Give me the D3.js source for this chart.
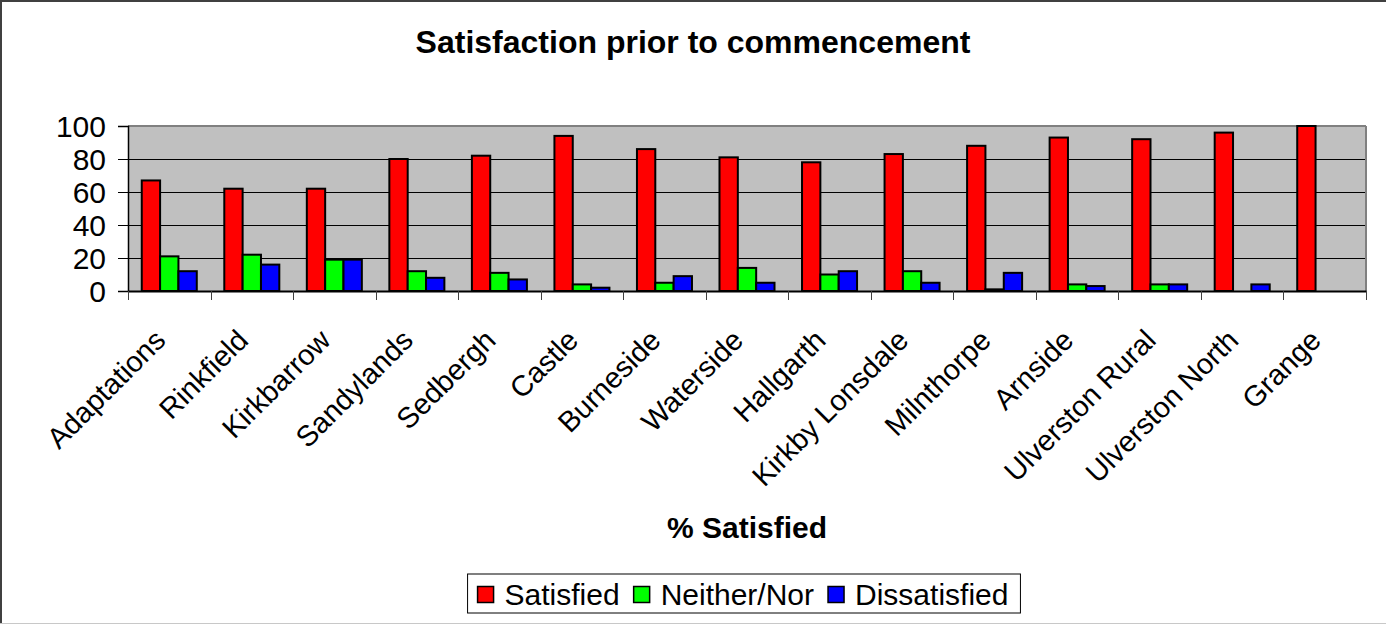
<!DOCTYPE html>
<html>
<head>
<meta charset="utf-8">
<script src="https://cdn.jsdelivr.net/npm/d3@7"></script>
<style>
  html, body { margin: 0; padding: 0; background: #fff; }
  svg { display: block; }
  text { font-family: "Liberation Sans", Arial, sans-serif; fill: #000; }
</style>
</head>
<body>
<svg id="chart" width="1386" height="624"></svg>
<script>
const categories = ["Adaptations", "Rinkfield", "Kirkbarrow", "Sandylands", "Sedbergh", "Castle",
  "Burneside", "Waterside", "Hallgarth", "Kirkby Lonsdale", "Milnthorpe", "Arnside",
  "Ulverston Rural", "Ulverston North", "Grange"];
const seriesNames = ["Satisfied", "Neither/Nor", "Dissatisfied"];
const satisfied    = [67, 62, 62, 80, 82, 94, 86, 81, 78, 83, 88, 93, 92, 96, 100];
const neitherNor   = [21, 22, 19, 12, 11, 4, 5, 14, 10, 12, 1, 4, 4, 0, 0];
const dissatisfied = [12, 16, 19, 8, 7, 2, 9, 5, 12, 5, 11, 3, 4, 4, 0];
const yTicks = [0, 20, 40, 60, 80, 100];
const titleText = "Satisfaction prior to commencement";
const xTitleText = "% Satisfied";

const colors = ["#FF0000", "#00FF00", "#0000FF"];
const seriesValues = [satisfied, neitherNor, dissatisfied];

const svg = d3.select("#chart");
const W = 1386, H = 624;
const plot = { left: 128, right: 1366, top: 126, bottom: 291 };
const fs = 30;

// outer frame
svg.append("line").attr("x1", 1).attr("y1", 0).attr("x2", 1).attr("y2", H).attr("stroke", "#404040").attr("stroke-width", 2);
svg.append("line").attr("x1", 0).attr("y1", 1).attr("x2", W).attr("y2", 1).attr("stroke", "#404040").attr("stroke-width", 2);
svg.append("line").attr("x1", 0).attr("y1", 623.5).attr("x2", W).attr("y2", 623.5).attr("stroke", "#c8c8c8").attr("stroke-width", 1);

const x0 = d3.scaleBand().domain(categories).range([plot.left, plot.right]).paddingInner(0).paddingOuter(0);
const bw = x0.bandwidth();
const x1 = d3.scaleBand().domain(seriesNames).range([bw / 6, bw * 5 / 6]).padding(0);
const y = d3.scaleLinear().domain([0, 100]).range([plot.bottom, plot.top]);

// plot background
svg.append("rect").attr("x", plot.left).attr("y", plot.top)
  .attr("width", plot.right - plot.left).attr("height", plot.bottom - plot.top)
  .attr("fill", "#C0C0C0");

// gridlines
svg.append("g").selectAll("line").data(yTicks.filter(t => t > 0 && t < 100)).join("line")
  .attr("x1", plot.left).attr("x2", plot.right)
  .attr("y1", d => Math.round(y(d)) + 0.5).attr("y2", d => Math.round(y(d)) + 0.5)
  .attr("stroke", "#000").attr("stroke-width", 1);

// plot border top & right (gray)
svg.append("line").attr("x1", plot.left).attr("x2", plot.right).attr("y1", plot.top).attr("y2", plot.top)
  .attr("stroke", "#808080").attr("stroke-width", 2);
svg.append("line").attr("x1", plot.right).attr("x2", plot.right).attr("y1", plot.top).attr("y2", plot.bottom)
  .attr("stroke", "#808080").attr("stroke-width", 2);

// bars
const rows = categories.map((c, i) => ({ cat: c, vals: seriesNames.map((s, j) => ({ s, j, v: seriesValues[j][i] })) }));
const groups = svg.append("g").selectAll("g").data(rows).join("g")
  .attr("transform", d => `translate(${x0(d.cat)},0)`);
groups.selectAll("rect").data(d => d.vals).join("rect")
  .attr("x", d => x1(d.s))
  .attr("width", x1.bandwidth())
  .attr("y", d => y(d.v))
  .attr("height", d => y(0) - y(d.v))
  .attr("fill", d => colors[d.j])
  .attr("stroke", "#000")
  .attr("stroke-width", 2);

// y axis
const yAxis = d3.axisLeft(y).tickValues(yTicks).tickSize(10).tickPadding(12);
const yg = svg.append("g").attr("transform", `translate(${plot.left},0)`).call(yAxis);
yg.select(".domain").attr("stroke", "#000").attr("stroke-width", 1.5);
yg.selectAll(".tick line").attr("stroke", "#000");
yg.selectAll("text").style("font-size", fs + "px").attr("dy", "0.36em").attr("fill", "#000");

// x axis
const xAxis = d3.axisBottom(x0).tickSize(0).tickFormat("");
const xg = svg.append("g").attr("transform", `translate(0,${plot.bottom})`).call(xAxis);
xg.select(".domain").attr("stroke", "#000").attr("stroke-width", 2);
xg.selectAll(".tick").remove();
const boundaries = categories.map(c => x0(c)).concat([plot.right]);
svg.append("g").selectAll("line").data(boundaries).join("line")
  .attr("x1", d => Math.round(d) + 0.5).attr("x2", d => Math.round(d) + 0.5)
  .attr("y1", plot.bottom).attr("y2", plot.bottom + 9)
  .attr("stroke", "#404040").attr("stroke-width", 1);

// category labels
svg.append("g").selectAll("text").data(categories).join("text")
  .attr("transform", d => `translate(${x0(d) + bw / 2 - 2},342) rotate(-45)`)
  .attr("text-anchor", "end")
  .style("font-size", "29px")
  .text(d => d);

// title
svg.append("text").attr("x", W / 2).attr("y", 53).attr("text-anchor", "middle")
  .style("font-size", "32px").style("font-weight", "bold").text(titleText);

// x axis title
svg.append("text").attr("x", (plot.left + plot.right) / 2).attr("y", 538).attr("text-anchor", "middle")
  .style("font-size", "30px").style("font-weight", "bold").text(xTitleText);

// legend
const legend = svg.append("g");
const sq = 16, gapSqText = 11, gapItems = 14, padL = 10, padR = 12;
const items = [];
seriesNames.forEach((name, j) => {
  const g = legend.append("g");
  g.append("rect").attr("x", 0).attr("y", -sq / 2).attr("width", sq).attr("height", sq)
    .attr("fill", colors[j]).attr("stroke", "#000").attr("stroke-width", 1.5);
  const t = g.append("text").attr("x", sq + gapSqText).attr("y", 0).attr("dy", "0.36em")
    .style("font-size", fs + "px").text(name);
  const w = sq + gapSqText + t.node().getComputedTextLength();
  items.push({ g, w });
});
const totalW = padL + items.reduce((a, b) => a + b.w, 0) + gapItems * (items.length - 1) + padR;
const boxH = 39;
const boxX = (plot.left + plot.right) / 2 - totalW / 2 - 3;
const boxY = 574;
legend.insert("rect", ":first-child").attr("x", boxX).attr("y", boxY).attr("width", totalW).attr("height", boxH)
  .attr("fill", "#fff").attr("stroke", "#000").attr("stroke-width", 1);
let px = boxX + padL;
items.forEach(it => {
  it.g.attr("transform", `translate(${px},${boxY + boxH / 2 + 1})`);
  px += it.w + gapItems;
});
</script>
</body>
</html>
